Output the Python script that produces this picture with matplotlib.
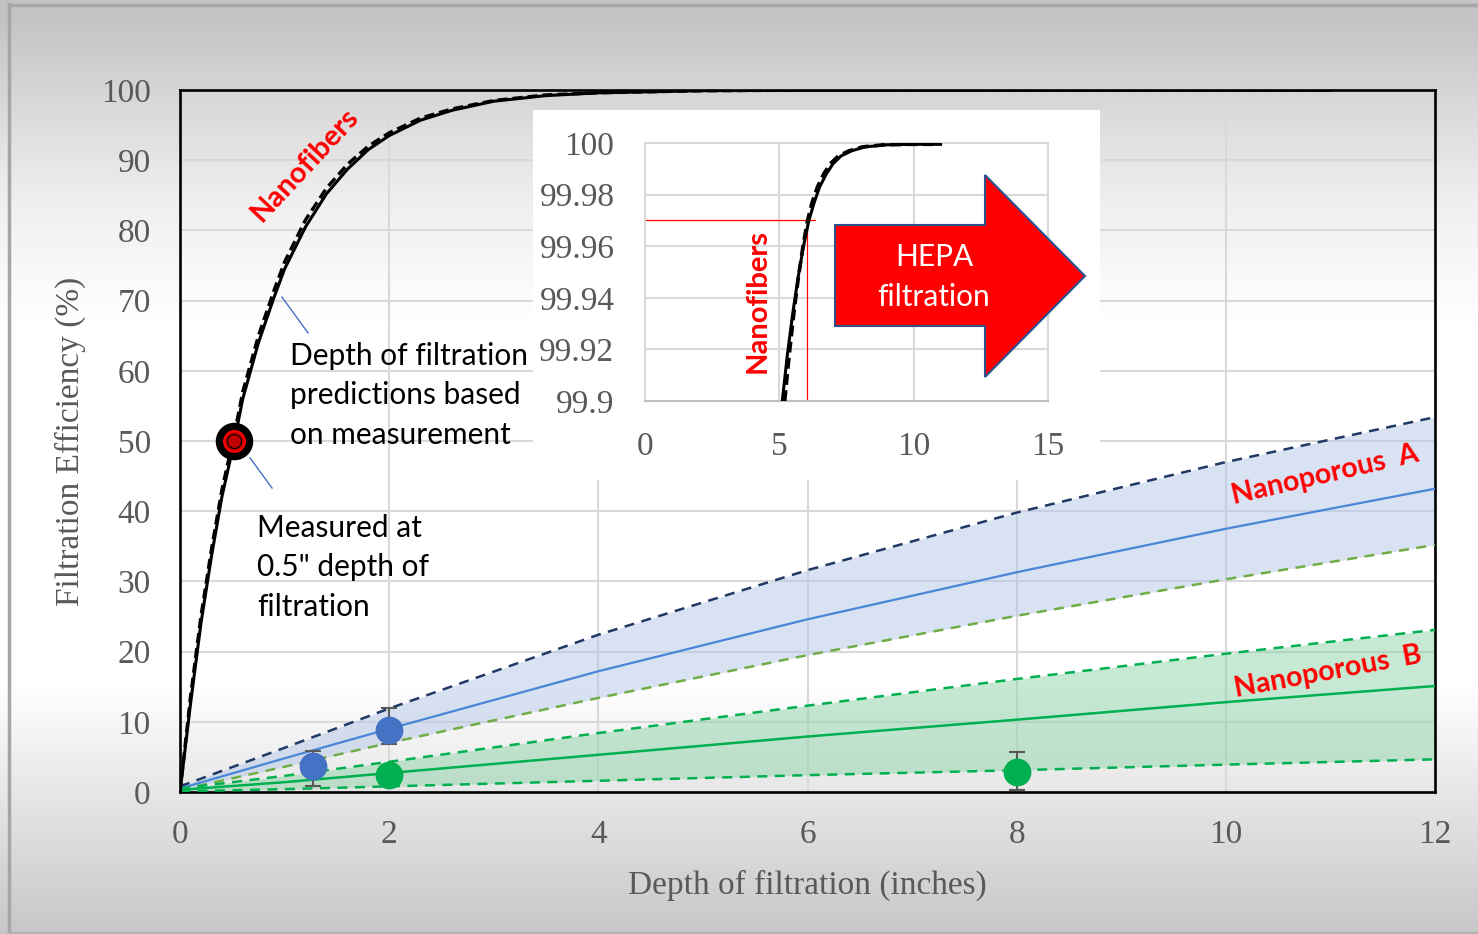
import matplotlib
matplotlib.use("Agg")
import matplotlib.pyplot as plt
from matplotlib.patches import Polygon
from matplotlib.lines import Line2D
import numpy as np

# nanofiber prediction (main axes)
nf_depth = [0, 0.1, 0.2, 0.3, 0.4, 0.52, 0.6, 0.75, 0.9, 1.0, 1.2, 1.4, 1.6, 1.8,
            2.0, 2.3, 2.6, 3.0, 3.5, 4.0, 5.0, 6.0, 7.0, 8.0, 9.0, 10.0, 11.0]
nf_eff = [0, 12.5, 24.0, 33.5, 42.0, 50.0, 56.0, 64.0, 70.5, 74.5, 80.5, 85.2, 88.7,
          91.5, 93.5, 95.7, 97.1, 98.4, 99.2, 99.6, 99.9, 99.97, 99.99, 100, 100, 100, 100]
nf_eff_dash = [0, 13.5, 25.0, 34.5, 43.0, 51.0, 57.0, 65.0, 71.5, 75.5, 81.5, 86.0, 89.4,
               92.0, 93.9, 96.0, 97.3, 98.5, 99.3, 99.6, 99.9, 99.97, 99.99, 100, 100, 100, 100]

# inset (zoom near 100 %)
ins_depth = [5.11, 5.3, 5.5, 5.7, 5.9, 6.1, 6.3, 6.5, 6.75, 7.0, 7.3, 7.7, 8.2, 9.0, 10.0, 11.0]
ins_depth_dash = [5.2, 5.37, 5.54, 5.71, 5.88, 6.05, 6.22, 6.42, 6.65, 6.9, 7.2, 7.6,
                  8.1, 8.9, 9.9, 11.0]
ins_eff = [99.900, 99.918, 99.934, 99.948, 99.960, 99.970, 99.977, 99.983, 99.988,
           99.992, 99.995, 99.997, 99.9985, 99.9993, 99.9995, 99.9995]
hepa_eff = 99.97
hepa_depth = 6.03
hepa_line_end = 6.33

# nanoporous predictions
np_depth = [0, 1, 2, 4, 6, 8, 10, 12]
a_mean = [0.5, 4.8, 9.0, 17.2, 24.6, 31.3, 37.5, 43.2]
a_upper = [0.8, 6.3, 11.9, 22.4, 31.6, 39.8, 47.0, 53.4]
a_lower = [0.3, 3.6, 7.0, 13.4, 19.5, 25.1, 30.3, 35.2]
b_mean = [0.3, 1.4, 2.7, 5.3, 7.9, 10.3, 12.8, 15.1]
b_upper = [0.5, 2.3, 4.3, 8.4, 12.3, 16.1, 19.7, 23.1]
b_lower = [0.1, 0.4, 0.8, 1.6, 2.4, 3.1, 3.9, 4.65]

# measurements
a_meas_depth = [1.27, 2.0]
a_meas_eff = [3.7, 8.8]
a_meas_err_lo = [2.85, 2.0]
a_meas_err_hi = [2.2, 3.1]
b_meas_depth = [2.0, 8.0]
b_meas_eff = [2.4, 2.85]
b_meas_err_lo = [0.0, 2.55]
b_meas_err_hi = [0.0, 2.85]
nf_meas_depth = [0.52]
nf_meas_eff = [50]

serif = ["Liberation Serif", "DejaVu Serif"]
sans = ["Lato", "DejaVu Sans"]
gray_txt = "#595959"
W, H = 1478, 934

fig = plt.figure(figsize=(W / 100, H / 100), dpi=100)

# background gradient
bg = fig.add_axes([0, 0, 1, 1], zorder=-10)
ys = np.arange(H)
shade = np.interp(ys, [0, 20, 100, 200, 330, 680, 800, 934],
                  [195, 195, 215, 238, 255, 255, 228, 198]) / 255
bg.imshow(np.repeat(shade[:, None], 2, axis=1), cmap="gray", vmin=0, vmax=1,
          aspect="auto", extent=[0, 1, 0, 1])
bg.axis("off")
fig.add_artist(Line2D([9 / W, 9 / W], [0, 1 - 4 / H], color="#a6a6a6", lw=2.5))
fig.add_artist(Line2D([9 / W, 1], [1 - 5 / H, 1 - 5 / H], color="#a6a6a6", lw=2.5))
fig.add_artist(Line2D([9 / W, 1], [1.5 / H, 1.5 / H], color="#b0b0b0", lw=2))


def fx(px):
    return px / W


def fy(py):
    return 1 - py / H


ax = fig.add_axes([fx(180), fy(792), fx(1435) - fx(180), fy(90) - fy(792)], zorder=1)
ax.set_facecolor("none")
ax.set_xlim(0, 12)
ax.set_ylim(0, 100)
ax.set_xticks(range(0, 13, 2))
ax.set_yticks(range(0, 101, 10))
ax.grid(True, color="#d9d9d9", lw=1.5)
ax.set_axisbelow(True)
ax.tick_params(length=0, labelsize=24, labelcolor=gray_txt)
ax.tick_params(axis="y", pad=21)
ax.tick_params(axis="x", pad=20)
for lab in ax.get_xticklabels() + ax.get_yticklabels():
    lab.set_family(serif)
for s in ax.spines.values():
    s.set_color("black")
    s.set_linewidth(1.9)
ax.set_xlabel("Depth of filtration (inches)", family=serif, fontsize=24,
              color=gray_txt, labelpad=14)
ax.set_ylabel("Filtration Efficiency (%)", family=serif, fontsize=24,
              color=gray_txt, labelpad=11)

# nanoporous A
ax.fill_between(np_depth, a_lower, a_upper, color="#b4c7e7", alpha=0.5, lw=0, zorder=2)
ax.plot(np_depth, a_upper, color="#203864", lw=1.8, ls=(0, (4, 3)), zorder=3)
ax.plot(np_depth, a_lower, color="#70ad47", lw=1.8, ls=(0, (4, 3)), zorder=3)
ax.plot(np_depth, a_mean, color="#4a86d8", lw=1.6, zorder=3)
# nanoporous B
ax.fill_between(np_depth, b_lower, b_upper, color="#8fd4a8", alpha=0.5, lw=0, zorder=2)
ax.plot(np_depth, b_upper, color="#00b050", lw=1.8, ls=(0, (4, 3)), zorder=3)
ax.plot(np_depth, b_lower, color="#00b050", lw=1.8, ls=(0, (4, 3)), zorder=3)
ax.plot(np_depth, b_mean, color="#00b050", lw=1.8, zorder=3)

ax.errorbar(a_meas_depth, a_meas_eff, yerr=[a_meas_err_lo, a_meas_err_hi], fmt="o",
            color="#4472c4", ms=19, ecolor="#595959", elinewidth=1.5, capsize=6,
            capthick=1.5, zorder=4)
ax.errorbar(b_meas_depth, b_meas_eff, yerr=[b_meas_err_lo, b_meas_err_hi], fmt="o",
            color="#00b050", ms=19, ecolor="#595959", elinewidth=1.5, capsize=6,
            capthick=1.5, zorder=4)

# nanofibers
ax.plot(nf_depth, nf_eff_dash, color="black", lw=2.4, ls=(0, (3, 1.5)), zorder=5)
ax.plot(nf_depth, nf_eff, color="black", lw=2.2, zorder=5)
ax.plot(nf_meas_depth, nf_meas_eff, "o", color="black", ms=26, zorder=6)
ax.plot(nf_meas_depth, nf_meas_eff, "o", mfc="#c00000", mec="#ff0000", ms=15, mew=1.5, zorder=7)
ax.plot(nf_meas_depth, nf_meas_eff, "o", mfc="#c00000", mec="black", ms=10, mew=0.8, zorder=8)

# leader lines and notes
ax.plot([0.975, 1.224], [70.5, 65.4], color="#4472c4", lw=1, zorder=4)
ax.plot([0.669, 0.88], [47.6, 43.3], color="#4472c4", lw=1, zorder=4)
ax.text(1.05, 56.5, "Depth of filtration\npredictions based\non measurement",
        family=sans, fontsize=21.5, ha="left", va="center", linespacing=1.5, zorder=6)
ax.text(0.736, 32.0, "Measured at\n0.5\" depth of\nfiltration",
        family=sans, fontsize=21.5, ha="left", va="center", linespacing=1.5, zorder=6)
ax.text(1.195, 89.3, "Nanofibers", family=sans, fontweight="bold", fontsize=21,
        color="#ff0000", rotation=47, ha="center", va="center", zorder=6)
ax.text(10.95, 45.2, "Nanoporous  A", family=sans, fontweight="bold", fontsize=20.5,
        color="#ff0000", rotation=13, ha="center", va="center", zorder=6)
ax.text(10.98, 17.1, "Nanoporous  B", family=sans, fontweight="bold", fontsize=20.5,
        color="#ff0000", rotation=10.5, ha="center", va="center", zorder=6)

# white box for the inset
box = fig.add_axes([fx(533), fy(480), fx(1100) - fx(533), fy(110) - fy(480)], zorder=2)
box.set_facecolor("white")
box.set_xticks([])
box.set_yticks([])
for s in box.spines.values():
    s.set_visible(False)

ins = fig.add_axes([fx(645), fy(401), fx(1048) - fx(645), fy(143) - fy(401)], zorder=3)
ins.set_facecolor("none")
ins.set_xlim(0, 15)
ins.set_ylim(99.9, 100)
ins.set_xticks([0, 5, 10, 15])
ins.set_yticks([99.9, 99.92, 99.94, 99.96, 99.98, 100])
ins.set_yticklabels(["99.9", "99.92", "99.94", "99.96", "99.98", "100"])
ins.grid(True, color="#d9d9d9", lw=1.5)
ins.set_axisbelow(True)
ins.tick_params(length=0, labelsize=24, labelcolor=gray_txt)
ins.tick_params(axis="y", pad=22)
ins.tick_params(axis="x", pad=22)
for lab in ins.get_xticklabels() + ins.get_yticklabels():
    lab.set_family(serif)
for s in ins.spines.values():
    s.set_color("#d9d9d9")
    s.set_linewidth(1.5)
ins.spines["bottom"].set_color("#bfbfbf")

ins.plot([0, hepa_line_end], [hepa_eff, hepa_eff], color="#ff0000", lw=0.9, zorder=2)
ins.plot([hepa_depth, hepa_depth], [99.9, hepa_eff], color="#ff0000", lw=0.9, zorder=2)
ins.plot(ins_depth_dash, ins_eff, color="black", lw=2.6, ls=(0, (3, 1.5)), zorder=3)
ins.plot(ins_depth, ins_eff, color="black", lw=2.2, zorder=3)
ins.text(4.18, 99.9387, "Nanofibers", family=sans, fontweight="bold", fontsize=21,
         color="#ff0000", rotation=90, ha="center", va="center")

# HEPA arrow
arrow_px = [(835, 225), (985, 225), (985, 175), (1085, 276), (985, 377), (985, 326), (835, 326)]
ins.add_patch(Polygon([(fx(x), fy(y)) for x, y in arrow_px], closed=True,
                      facecolor="#ff0000", edgecolor="#2f528f", lw=1.5,
                      transform=fig.transFigure, clip_on=False, zorder=5))
ins.text(fx(934), fy(277), "HEPA\nfiltration", transform=fig.transFigure,
         family=sans, fontsize=21.5, color="white", ha="center", va="center",
         linespacing=1.5, zorder=6)

fig.savefig("out.png", dpi=100)
